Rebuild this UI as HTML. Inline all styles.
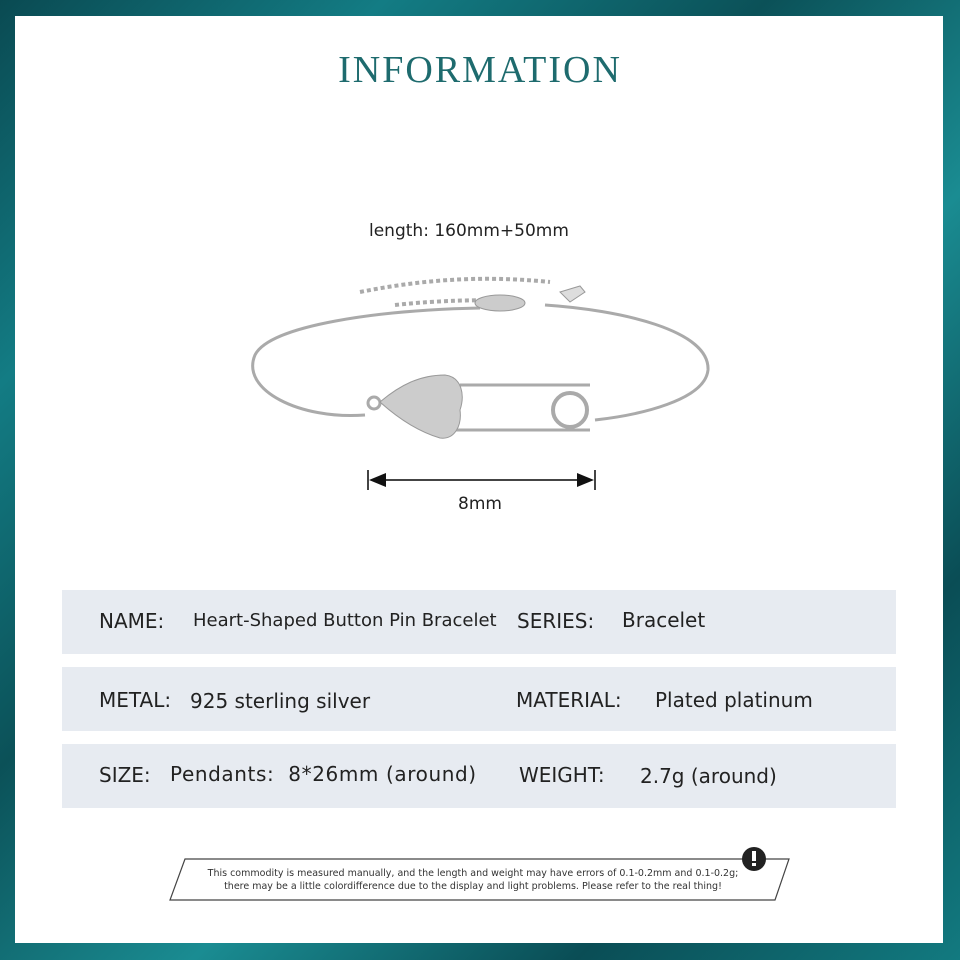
<!DOCTYPE html>
<html><head><meta charset="utf-8"><style>
*{margin:0;padding:0;box-sizing:border-box}
body{width:960px;height:960px;overflow:hidden;background:linear-gradient(135deg,#0a4a52 0%,#137c84 20%,#0b5158 40%,#1a8c92 60%,#0a4d55 80%,#127a80 100%);position:relative;font-family:"DejaVu Sans",sans-serif}
.panel{position:absolute;left:15px;top:16px;width:928px;height:927px;background:#fff}
.title{position:absolute;top:48px;left:0;width:960px;text-align:center;font-family:"Liberation Serif",serif;font-size:38px;letter-spacing:2px;color:#1e6b6e}
.row{position:absolute;left:62px;width:834px;height:64px;background:#e7ebf1}
.t{position:absolute;font-size:20px;color:#222;white-space:nowrap}
.s{font-size:18px}
</style></head><body>
<div class="panel"></div>
<div class="title">INFORMATION</div>
<div class="t" style="left:369px;top:221px;font-size:17px">length: 160mm+50mm</div>
<svg style="position:absolute;left:0;top:0" width="960" height="960">
<g fill="none" stroke="#aaa" stroke-width="3">
<path d="M365 415 C300 420 240 390 255 355 C270 325 380 310 480 308"/>
<path d="M545 305 C620 310 710 330 708 370 C705 400 640 415 595 420"/>
<path d="M360 292 C420 280 480 275 550 282" stroke-dasharray="4 3" stroke-width="4"/>
<path d="M395 305 C440 300 480 300 520 300" stroke-dasharray="4 3" stroke-width="4"/>
<path d="M460 385 L590 385 M455 430 L590 430" stroke-width="3"/>
<circle cx="570" cy="410" r="17" stroke-width="4"/>
<circle cx="374" cy="403" r="6"/>
</g>
<path d="M380 402 C400 385 420 375 445 375 C462 377 465 395 460 410 C462 425 455 440 440 438 C420 432 400 420 380 402Z" fill="#ccc" stroke="#999"/>
<path d="M560 292 L580 286 L585 292 L570 302Z" fill="#ddd" stroke="#999"/>
<ellipse cx="500" cy="303" rx="25" ry="8" fill="#ccc" stroke="#999"/>
<g stroke="#444" stroke-width="2" fill="#111">
<line x1="368" y1="470" x2="368" y2="490"/><line x1="595" y1="470" x2="595" y2="490"/>
<line x1="380" y1="480" x2="583" y2="480"/>
<path d="M369 480 L386 473 L386 487Z" stroke="none"/><path d="M594 480 L577 473 L577 487Z" stroke="none"/>
</g>
<path d="M185 859 L789 859 L775 900 L170 900Z" fill="#fff" stroke="#444" stroke-width="1.2"/>
<circle cx="754" cy="859" r="12" fill="#222"/>
<rect x="752" y="851" width="4" height="10" fill="#fff"/><rect x="752" y="863" width="4" height="3" fill="#fff"/>
<text x="473" y="876" text-anchor="middle" font-family="DejaVu Sans" font-size="9.5" fill="#333">This commodity is measured manually, and the length and weight may have errors of 0.1-0.2mm and 0.1-0.2g;</text>
<text x="473" y="889" text-anchor="middle" font-family="DejaVu Sans" font-size="9.5" fill="#333">there may be a little colordifference due to the display and light problems. Please refer to the real thing!</text>
</svg>
<div class="t" style="left:458px;top:494px;font-size:17px">8mm</div>
<div class="row" style="top:590px"></div>
<div class="row" style="top:667px"></div>
<div class="row" style="top:744px"></div>
<div class="t" style="left:99px;top:609px">NAME:</div>
<div class="t s" style="left:193px;top:610px">Heart-Shaped Button Pin Bracelet</div>
<div class="t" style="left:517px;top:609px">SERIES:</div>
<div class="t" style="left:622px;top:608px">Bracelet</div>
<div class="t" style="left:99px;top:688px">METAL:</div>
<div class="t" style="left:190px;top:689px">925 sterling silver</div>
<div class="t" style="left:516px;top:688px">MATERIAL:</div>
<div class="t" style="left:655px;top:688px">Plated platinum</div>
<div class="t" style="left:99px;top:763px">SIZE:</div>
<div class="t" style="left:170px;top:762px;letter-spacing:0.6px">Pendants:&nbsp; 8*26mm (around)</div>
<div class="t" style="left:519px;top:763px">WEIGHT:</div>
<div class="t" style="left:640px;top:764px">2.7g (around)</div>
</body></html>
